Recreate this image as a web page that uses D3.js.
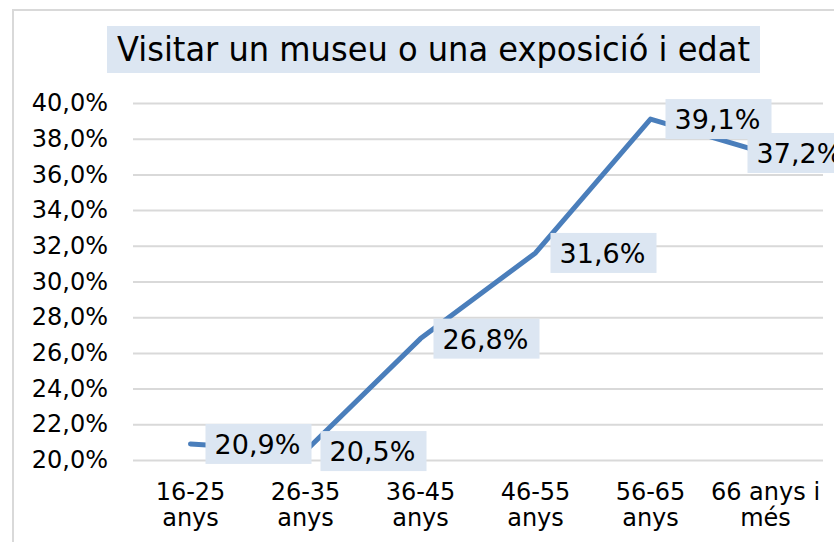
<!DOCTYPE html>
<html>
<head>
<meta charset="utf-8">
<script src="https://cdn.jsdelivr.net/npm/d3@7"></script>
<style>
  body { margin: 0; background: #fff; }
  svg { display: block; }
</style>
</head>
<body>
<div id="root"></div>
<script>
// chart data
const categories = [["16-25", "anys"], ["26-35", "anys"], ["36-45", "anys"], ["46-55", "anys"], ["56-65", "anys"], ["66 anys i", "més"]];
const values = [20.9, 20.5, 26.8, 31.6, 39.1, 37.2];
const yTicks = [20, 22, 24, 26, 28, 30, 32, 34, 36, 38, 40];
const title = "Visitar un museu o una exposició i edat";

const width = 834, height = 542;
const plot = { left: 133, right: 823, top: 103, bottom: 460 };

const fmt = v => d3.format(".1f")(v).replace(".", ",") + "%";

const svg = d3.select("#root").append("svg")
  .attr("width", width)
  .attr("height", height);

// outer chart border (runs off the right / bottom edge)
svg.append("rect")
  .attr("x", 13).attr("y", 10)
  .attr("width", 900).attr("height", 600)
  .attr("fill", "#fff")
  .attr("stroke", "#d9d9d9")
  .attr("stroke-width", 2);

// title
svg.append("rect")
  .attr("x", 107).attr("y", 26)
  .attr("width", 653).attr("height", 47)
  .attr("fill", "#dce6f2");

svg.append("text")
  .attr("x", 117).attr("y", 61)
  .attr("font-family", "DejaVu Sans")
  .attr("font-size", 33)
  .attr("textLength", 633)
  .attr("lengthAdjust", "spacingAndGlyphs")
  .attr("fill", "#000")
  .text(title);

const x = d3.scaleBand()
  .domain(d3.range(categories.length))
  .range([plot.left, plot.right]);

const y = d3.scaleLinear()
  .domain([20, 40])
  .range([plot.bottom, plot.top]);

// grid
const grid = svg.append("g")
  .attr("transform", `translate(${plot.left},0)`)
  .call(d3.axisLeft(y)
    .tickValues(yTicks)
    .tickSize(-(plot.right - plot.left))
    .tickFormat(""));
grid.select(".domain").remove();
grid.selectAll(".tick line").attr("stroke", "#d9d9d9").attr("stroke-width", 2);

// y axis labels
const yAxis = svg.append("g")
  .attr("transform", `translate(${plot.left},0)`)
  .call(d3.axisLeft(y).tickValues(yTicks).tickSize(0).tickPadding(25).tickFormat(fmt));
yAxis.select(".domain").remove();
yAxis.selectAll("text")
  .attr("font-family", "DejaVu Sans")
  .attr("font-size", 24)
  .attr("fill", "#000");

// x axis labels (two lines)
const xAxis = svg.append("g");
categories.forEach((c, i) => {
  const t = xAxis.append("text")
    .attr("x", x(i) + x.bandwidth() / 2)
    .attr("y", 500)
    .attr("text-anchor", "middle")
    .attr("font-family", "DejaVu Sans")
    .attr("font-size", 24)
    .attr("fill", "#000");
  c.forEach((s, j) => {
    t.append("tspan")
      .attr("x", x(i) + x.bandwidth() / 2)
      .attr("dy", j === 0 ? 0 : 26)
      .text(s);
  });
});

// line
const line = d3.line()
  .x((d, i) => x(i) + x.bandwidth() / 2)
  .y(d => y(d));

svg.append("path")
  .datum(values)
  .attr("d", line)
  .attr("fill", "none")
  .attr("stroke", "#4a7ebb")
  .attr("stroke-width", 5)
  .attr("stroke-linejoin", "round")
  .attr("stroke-linecap", "round");

// data labels, boxed to the right of the points
const labelShift = [15, 15, 13, 15, 15, -18];
const labels = svg.append("g");
values.forEach((v, i) => {
  const cx = x(i) + x.bandwidth() / 2 + labelShift[i];
  const cy = y(v);
  labels.append("rect")
    .attr("x", cx).attr("y", cy - 20)
    .attr("width", 106).attr("height", 40)
    .attr("fill", "#dce6f2");
  labels.append("text")
    .attr("x", cx + 52).attr("y", cy + 10)
    .attr("text-anchor", "middle")
    .attr("font-family", "DejaVu Sans")
    .attr("font-size", 27)
    .attr("fill", "#000")
    .text(fmt(v));
});
</script>
</body>
</html>
